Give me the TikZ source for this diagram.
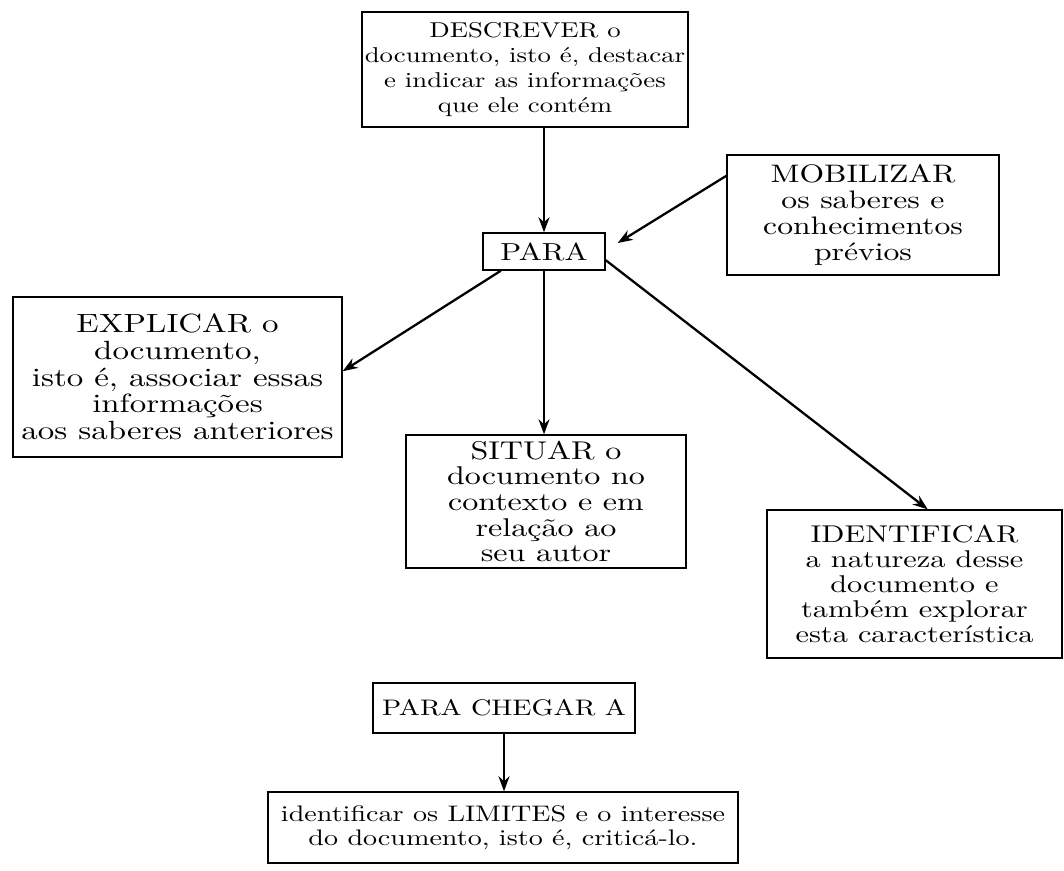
\documentclass[tikz,border=0pt]{standalone}
\usepackage{fontspec}
\setmainfont{lmroman10-regular.otf}[FakeStretch=1.25]
\usetikzlibrary{arrows.meta}
\newcommand{\tam}[2]{\fontsize{#1}{#2}\selectfont\lineskiplimit=-20pt\relax}

\begin{document}
\begin{tikzpicture}[x=0.02cm, y=-0.02cm,
	caixa/.style={rectangle, draw=black, line width=0.8pt, align=center, inner sep=0pt},
	seta/.style={line width=1.3pt, -{Stealth[length=0.3cm, width=0.22cm]}}]
	\useasboundingbox (0,0) rectangle (1064,871);
	
	%%% CAIXAS
	\node[caixa, minimum width=6.52cm, minimum height=2.30cm, font=\tam{12.2}{14.2}] (descrever) at (525,69.5)
		{DESCREVER o\\ documento, isto é, destacar\\ e indicar as informações\\ que ele contém};
	\node[caixa, minimum width=2.44cm, minimum height=0.74cm, font=\tam{14}{14}] (para) at (544,251.5) {PARA};
	\node[caixa, minimum width=5.44cm, minimum height=2.40cm, font=\tam{14.4}{14.8}] (mobilizar) at (863,215)
		{MOBILIZAR\\ os saberes e\\ conhecimentos\\ prévios};
	\node[caixa, minimum width=6.58cm, minimum height=3.20cm, font=\tam{15}{15.2}] (explicar) at (177.5,377)
		{EXPLICAR o\\ documento,\\ isto é, associar essas\\ informações\\ aos saberes anteriores};
	\node[caixa, minimum width=5.60cm, minimum height=2.66cm, font=\tam{14.6}{14.6}] (situar) at (546,501.5)
		{SITUAR o\\ documento no\\ contexto e em\\ relação ao\\ seu autor};
	\node[caixa, minimum width=5.90cm, minimum height=2.96cm, font=\tam{13.8}{14.2}] (identificar) at (914.5,584)
		{IDENTIFICAR\\ a natureza desse\\ documento e\\ também explorar\\ esta característica};
	\node[caixa, minimum width=5.24cm, minimum height=1.00cm, font=\tam{12.8}{14}] (chegar) at (504,708) {PARA CHEGAR A};
	\node[caixa, minimum width=9.40cm, minimum height=1.42cm, font=\tam{12.8}{13.8}] (limites) at (503,827.5)
		{identificar os LIMITES e o interesse\\ do documento, isto é, criticá-lo.};
	
	%%% SETAS
	\draw[seta] (para.north |- descrever.south) -- (para.north);
	\draw[seta] (mobilizar.164) -- ([xshift=0.24cm, yshift=0.17cm]para.east);
	\draw[seta] (para.204) -- (explicar.2);
	\draw[seta] (para.south) -- (para.south |- situar.north);
	\draw[seta] (para.-8) -- (identificar.80);
	\draw[seta] (chegar.south) -- (chegar.south |- limites.north);
\end{tikzpicture}
\end{document}
